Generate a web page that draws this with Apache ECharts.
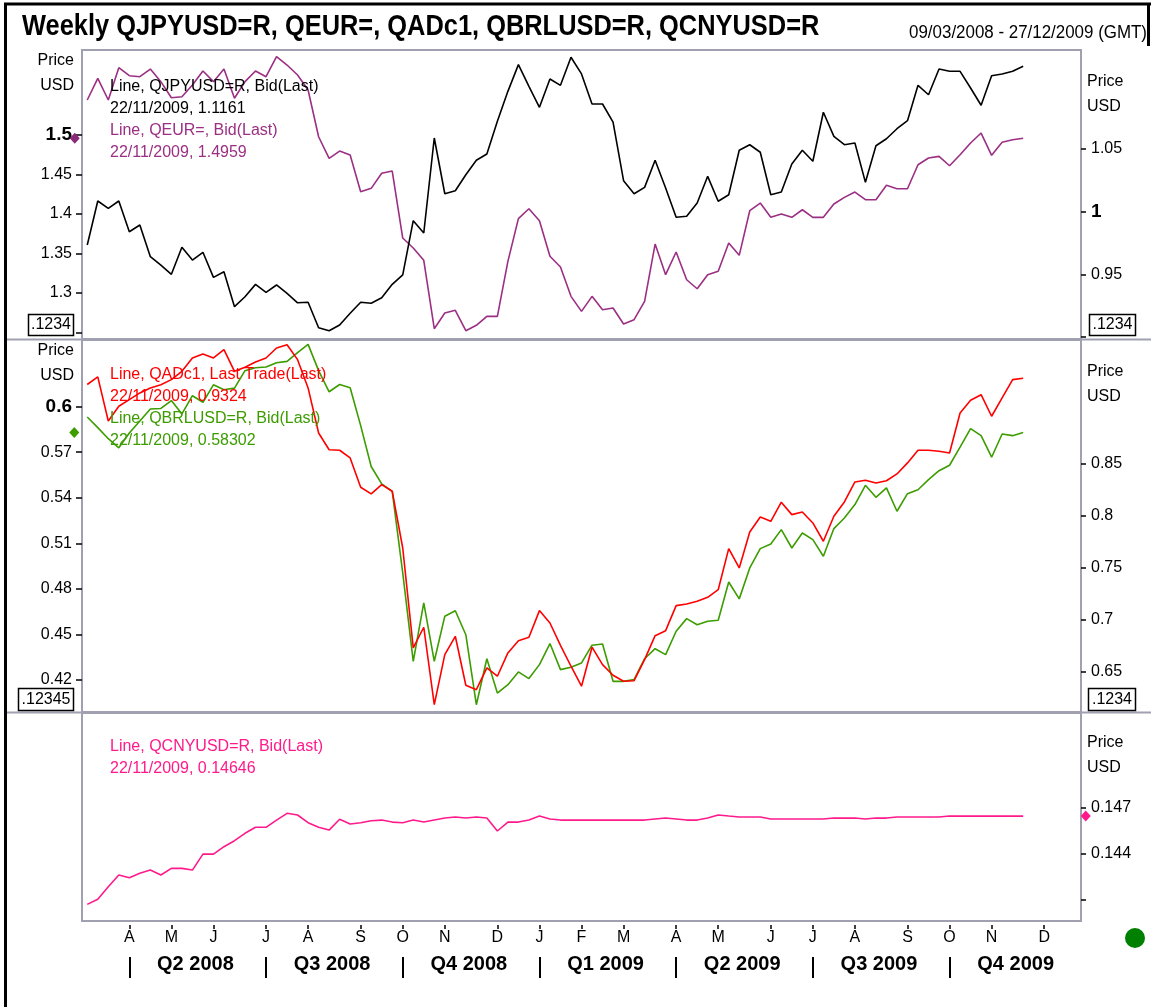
<!DOCTYPE html>
<html>
<head>
<meta charset="utf-8">
<title>Weekly QJPYUSD=R, QEUR=, QADc1, QBRLUSD=R, QCNYUSD=R</title>
<script src="https://cdn.jsdelivr.net/npm/echarts@6/dist/echarts.min.js"></script>
<style>
  html, body { margin: 0; padding: 0; background: #fff; }
  #chart { width: 1151px; height: 1007px; }
</style>
</head>
<body>
<div id="chart"></div>
<script>
// weekly calendar 09/03/2008 .. 27/12/2009 (the last weeks have no data yet)
const firstWeek = Date.UTC(2008, 2, 9);
const weekCount = 95;
const weeks = [];
for (let i = 0; i < weekCount; i++) {
  weeks.push(new Date(firstWeek + i * 7 * 86400000).toISOString().slice(0, 10));
}
const monthInitials = ['J', 'F', 'M', 'A', 'M', 'J', 'J', 'A', 'S', 'O', 'N', 'D'];

const jpyName = 'Line, QJPYUSD=R, Bid(Last)';
const eurName = 'Line, QEUR=, Bid(Last)';
const audName = 'Line, QADc1, Last Trade(Last)';
const brlName = 'Line, QBRLUSD=R, Bid(Last)';
const cnyName = 'Line, QCNYUSD=R, Bid(Last)';

const jpyValues = [
  0.9734, 1.0085, 1.0027, 1.0085, 0.9840, 0.9894, 0.9641, 0.9574, 0.9500, 0.9716,
  0.9614, 0.9676, 0.9476, 0.9521, 0.9242, 0.9321, 0.9420, 0.9356, 0.9415, 0.9348,
  0.9273, 0.9277, 0.9074, 0.9050, 0.9096, 0.9189, 0.9277, 0.9269, 0.9313, 0.9420,
  0.9495, 0.9928, 0.9830, 1.0588, 1.0143, 1.0167, 1.0295, 1.0410, 1.0460, 1.0721,
  1.0960, 1.1173, 1.1000, 1.0833, 1.1059, 1.1008, 1.1232, 1.1099, 1.0859, 1.0859,
  1.0715, 1.0247, 1.0143, 1.0194, 1.0410, 1.0189, 0.9955, 0.9963, 1.0069, 1.0282,
  1.0083, 1.0135, 1.0490, 1.0534, 1.0474, 1.0135, 1.0157, 1.0380, 1.0490, 1.0402,
  1.0793, 1.0601, 1.0534, 1.0548, 1.0234, 1.0526, 1.0582, 1.0662, 1.0726, 1.1008,
  1.0933, 1.1138, 1.1120, 1.1120, 1.0987, 1.0849, 1.1085, 1.1099, 1.1120, 1.1161
];
const eurValues = [
  1.5443, 1.5718, 1.5443, 1.5852, 1.5751, 1.5738, 1.5835, 1.5675, 1.5472, 1.5485,
  1.5633, 1.5810, 1.5675, 1.5835, 1.5465, 1.5675, 1.5810, 1.5738, 1.5991, 1.5886,
  1.5759, 1.5570, 1.4978, 1.4705, 1.4797, 1.4747, 1.4282, 1.4325, 1.4515, 1.4544,
  1.3696, 1.3570, 1.3414, 1.2548, 1.2747, 1.2781, 1.2523, 1.2591, 1.2705, 1.2705,
  1.3401, 1.3941, 1.4067, 1.3915, 1.3465, 1.3329, 1.2958, 1.2768, 1.2958, 1.2789,
  1.2810, 1.2608, 1.2662, 1.2895, 1.3620, 1.3232, 1.3519, 1.3168, 1.3054, 1.3232,
  1.3275, 1.3633, 1.3477, 1.4042, 1.4139, 1.3958, 1.4000, 1.3958, 1.4054, 1.3958,
  1.3958, 1.4127, 1.4211, 1.4278, 1.4181, 1.4181, 1.4363, 1.4320, 1.4320, 1.4624,
  1.4709, 1.4730, 1.4611, 1.4751, 1.4899, 1.5025, 1.4743, 1.4908, 1.4941, 1.4959
];
const audValues = [
  0.9264, 0.9337, 0.8913, 0.9055, 0.9118, 0.9183, 0.9231, 0.9262, 0.9311, 0.9391,
  0.9519, 0.9558, 0.9519, 0.9599, 0.9391, 0.9430, 0.9481, 0.9519, 0.9615, 0.9647,
  0.9503, 0.9231, 0.8798, 0.8637, 0.8632, 0.8558, 0.8276, 0.8212, 0.8301, 0.8238,
  0.7692, 0.6731, 0.6930, 0.6186, 0.6666, 0.6843, 0.6372, 0.6330, 0.6539, 0.6459,
  0.6683, 0.6801, 0.6834, 0.7090, 0.6971, 0.6755, 0.6555, 0.6363, 0.6738, 0.6570,
  0.6468, 0.6411, 0.6416, 0.6618, 0.6849, 0.6897, 0.7138, 0.7154, 0.7180, 0.7218,
  0.7291, 0.7686, 0.7500, 0.7846, 0.7990, 0.7949, 0.8132, 0.8013, 0.8038, 0.7933,
  0.7757, 0.7997, 0.8135, 0.8327, 0.8343, 0.8317, 0.8339, 0.8404, 0.8510, 0.8632,
  0.8632, 0.8622, 0.8606, 0.8990, 0.9112, 0.9166, 0.8959, 0.9135, 0.9311, 0.9324
];
const brlValues = [
  0.5932, 0.5862, 0.5789, 0.5729, 0.5827, 0.5906, 0.5985, 0.5988, 0.6040, 0.5952,
  0.6072, 0.6029, 0.6144, 0.6111, 0.6122, 0.6237, 0.6256, 0.6261, 0.6289, 0.6298,
  0.6356, 0.6410, 0.6237, 0.6098, 0.6146, 0.6124, 0.5875, 0.5606, 0.5491, 0.5442,
  0.4905, 0.4323, 0.4707, 0.4323, 0.4620, 0.4656, 0.4498, 0.4037, 0.4340, 0.4114,
  0.4169, 0.4253, 0.4209, 0.4301, 0.4440, 0.4268, 0.4284, 0.4312, 0.4429, 0.4437,
  0.4191, 0.4191, 0.4202, 0.4340, 0.4406, 0.4367, 0.4521, 0.4604, 0.4564, 0.4587,
  0.4593, 0.4845, 0.4734, 0.4938, 0.5065, 0.5096, 0.5190, 0.5069, 0.5168, 0.5124,
  0.5015, 0.5197, 0.5267, 0.5355, 0.5482, 0.5403, 0.5465, 0.5311, 0.5427, 0.5453,
  0.5519, 0.5578, 0.5614, 0.5733, 0.5855, 0.5809, 0.5667, 0.5820, 0.5809, 0.58302
];
const cnyValues = [
  0.14072, 0.14105, 0.14187, 0.14263, 0.14245, 0.14274, 0.14295, 0.14263, 0.14306, 0.14306,
  0.14295, 0.14399, 0.14399, 0.14447, 0.14486, 0.14534, 0.14573, 0.14573, 0.14620, 0.14664,
  0.14653, 0.14603, 0.14573, 0.14555, 0.14625, 0.14594, 0.14603, 0.14616, 0.14620, 0.14607,
  0.14603, 0.14620, 0.14607, 0.14620, 0.14633, 0.14640, 0.14633, 0.14640, 0.14633, 0.14549,
  0.14607, 0.14607, 0.14620, 0.14646, 0.14627, 0.14620, 0.14620, 0.14620, 0.14620, 0.14620,
  0.14620, 0.14620, 0.14620, 0.14620, 0.14627, 0.14633, 0.14627, 0.14620, 0.14620, 0.14633,
  0.14653, 0.14646, 0.14640, 0.14640, 0.14640, 0.14627, 0.14627, 0.14627, 0.14627, 0.14627,
  0.14627, 0.14633, 0.14633, 0.14633, 0.14627, 0.14633, 0.14633, 0.14640, 0.14640, 0.14640,
  0.14640, 0.14640, 0.14646, 0.14646, 0.14646, 0.14646, 0.14646, 0.14646, 0.14646, 0.14646
];

// tick values per axis
const eurTicks = [1.25, 1.3, 1.35, 1.4, 1.45, 1.5];
const jpyTicks = [0.9, 0.95, 1, 1.05];
const brlTicks = [0.42, 0.45, 0.48, 0.51, 0.54, 0.57, 0.6];
const audTicks = [0.65, 0.7, 0.75, 0.8, 0.85];
const cnyTicks = [0.141, 0.144, 0.147];

const colors = {
  jpy: '#000000',
  eur: '#9b2f83',
  aud: '#ff0000',
  brl: '#3c9c00',
  cny: '#ff1a8c'
};

const font = 'Liberation Sans, Arial, sans-serif';

const monthOf = i => Number(weeks[i].slice(5, 7)) - 1;
const isMonthStart = i => i > 0 && i < weekCount && monthOf(i) !== monthOf(i - 1);
const isQuarterStart = i => isMonthStart(i) && monthOf(i) % 3 === 0;

function dmy(iso) {
  const p = iso.split('-');
  return p[2] + '/' + p[1] + '/' + p[0];
}

const lastInfo = {};
[[jpyName, jpyValues], [eurName, eurValues], [audName, audValues], [brlName, brlValues], [cnyName, cnyValues]]
  .forEach(([name, vals]) => {
    lastInfo[name] = dmy(weeks[vals.length - 1]) + ', ' + vals[vals.length - 1];
  });

function tickLabels(ticks, bold, hidden) {
  return function (v) {
    const t = ticks.find(x => Math.abs(x - v) < 1e-9);
    const s = String(t === undefined ? v : t);
    if (hidden !== undefined && Math.abs(v - hidden) < 1e-9) return '';
    if (bold !== undefined && Math.abs(v - bold) < 1e-9) return '{b|' + s + '}';
    return s;
  };
}

function valueAxis(gridIndex, side, min, max, ticks, bold, hidden, nameGap) {
  return {
    type: 'value',
    gridIndex: gridIndex,
    position: side,
    min: min,
    max: max,
    name: nameGap === null ? '' : 'Price\nUSD',
    nameLocation: 'end',
    nameGap: nameGap === null ? 0 : nameGap,
    nameTextStyle: {
      align: side === 'left' ? 'right' : 'left',
      verticalAlign: 'top',
      lineHeight: 25,
      fontSize: 16,
      fontFamily: font,
      color: '#000',
      padding: side === 'left' ? [0, 8, 0, 0] : [0, 0, 0, 6]
    },
    axisLine: { show: false },
    axisTick: { show: true, length: side === 'left' ? 6 : 5, customValues: ticks, lineStyle: { color: '#000', width: 1.5 } },
    axisLabel: {
      customValues: ticks,
      margin: 10,
      fontSize: 16,
      fontFamily: font,
      color: '#000',
      formatter: tickLabels(ticks, bold, hidden),
      rich: { b: { fontSize: 19, fontWeight: 'bold', fontFamily: font, color: '#000' } }
    },
    splitLine: { show: false }
  };
}

function hiddenX(gridIndex) {
  return { type: 'category', gridIndex: gridIndex, data: weeks, boundaryGap: true, show: false };
}

function line(name, xi, yi, values, color, marker) {
  const s = {
    name: name,
    type: 'line',
    xAxisIndex: xi,
    yAxisIndex: yi,
    data: values,
    symbol: 'none',
    showSymbol: false,
    color: color,
    lineStyle: { color: color, width: 1.6 },
    emphasis: { disabled: true }
  };
  if (marker) {
    s.markPoint = {
      symbol: 'diamond',
      symbolSize: [10, 11],
      symbolOffset: [marker.offset, 0],
      itemStyle: { color: marker.color || color },
      label: { show: false },
      data: [{ coord: [weeks[marker.at], values[values.length - 1]] }]
    };
  }
  return s;
}

function legendFor(names, top) {
  return {
    orient: 'vertical',
    left: 105,
    top: top,
    padding: 0,
    itemGap: 0,
    itemWidth: 0,
    itemHeight: 0,
    icon: 'none',
    selectedMode: false,
    textStyle: { fontSize: 16, fontFamily: font, lineHeight: 22.3 },
    formatter: name => name + '\n' + lastInfo[name],
    data: names.map(n => ({ name: n.name, textStyle: { color: n.color } }))
  };
}

const gridBorder = '#a0a0b0';

const myChart = echarts.init(document.getElementById('chart'), null, { renderer: 'canvas' });

const option = {
  animation: false,
  backgroundColor: '#fff',
  grid: [
    { left: 82, right: 70, top: 50, height: 289, show: true, borderColor: gridBorder, borderWidth: 2, backgroundColor: 'transparent' },
    { left: 82, right: 70, top: 340, height: 372, show: true, borderColor: gridBorder, borderWidth: 2, backgroundColor: 'transparent' },
    { left: 82, right: 70, top: 713, height: 208, show: true, borderColor: gridBorder, borderWidth: 2, backgroundColor: 'transparent' }
  ],
  xAxis: [
    hiddenX(0),
    hiddenX(1),
    {
      // month initials
      type: 'category',
      gridIndex: 2,
      data: weeks,
      boundaryGap: true,
      position: 'bottom',
      offset: 4,
      axisLine: { show: false },
      axisTick: { show: true, alignWithLabel: true, length: 4, interval: i => isMonthStart(i), lineStyle: { color: '#000', width: 1.5 } },
      axisLabel: {
        interval: i => isMonthStart(i),
        formatter: (v, i) => monthInitials[monthOf(i)],
        margin: 5,
        fontSize: 16,
        fontFamily: font,
        color: '#000'
      },
      splitLine: { show: false }
    },
    {
      // quarter row
      type: 'category',
      gridIndex: 2,
      data: weeks,
      boundaryGap: true,
      position: 'bottom',
      offset: 36,
      axisLine: { show: false },
      axisTick: { show: true, alignWithLabel: true, length: 21, interval: i => isQuarterStart(i), lineStyle: { color: '#000', width: 2 } },
      axisLabel: {
        interval: i => isQuarterStart(i - 6),
        formatter: (v, i) => 'Q' + (Math.floor(monthOf(i) / 3) + 1) + ' ' + v.slice(0, 4),
        margin: 7,
        verticalAlign: 'middle',
        padding: [0, 0, 0, 6],
        fontSize: 20,
        fontWeight: 'bold',
        fontFamily: font,
        color: '#000'
      },
      splitLine: { show: false }
    }
  ],
  yAxis: [
    valueAxis(0, 'left', 1.2418, 1.6076, eurTicks, 1.5, 1.25, 1.5),
    valueAxis(0, 'right', 0.8984, 1.1290, jpyTicks, 1, 0.9, -19.5),
    valueAxis(1, 'left', 0.3989, 0.6439, brlTicks, 0.6, undefined, 1.5),
    valueAxis(1, 'right', 0.6115, 0.9692, audTicks, undefined, undefined, -19.5),
    valueAxis(2, 'right', 0.13964, 0.15316, cnyTicks, undefined, 0.141, -17.5)
  ],
  legend: [
    legendFor([{ name: jpyName, color: colors.jpy }, { name: eurName, color: colors.eur }], 75),
    legendFor([{ name: audName, color: colors.aud }, { name: brlName, color: colors.brl }], 363),
    legendFor([{ name: cnyName, color: colors.cny }], 735)
  ],
  series: [
    line(eurName, 0, 0, eurValues, colors.eur, { at: 0, offset: -12.5, color: '#8b2a7a' }),
    line(jpyName, 0, 1, jpyValues, colors.jpy),
    line(brlName, 1, 2, brlValues, colors.brl, { at: 0, offset: -13 }),
    line(audName, 1, 3, audValues, colors.aud),
    line(cnyName, 2, 4, cnyValues, colors.cny, { at: weekCount - 1, offset: 10 })
  ],
  graphic: [
    // outer frame
    { type: 'line', shape: { x1: 4, y1: 4, x2: 1151, y2: 4 }, style: { stroke: '#000', lineWidth: 3 } },
    { type: 'line', shape: { x1: 5.5, y1: 3, x2: 5.5, y2: 1007 }, style: { stroke: '#000', lineWidth: 3 } },
    { type: 'line', shape: { x1: 1148.5, y1: 3, x2: 1148.5, y2: 46 }, style: { stroke: '#000', lineWidth: 3 } },
    // panel separators
    { type: 'line', shape: { x1: 7, y1: 339.5, x2: 1151, y2: 339.5 }, style: { stroke: gridBorder, lineWidth: 2 } },
    { type: 'line', shape: { x1: 7, y1: 712.5, x2: 1151, y2: 712.5 }, style: { stroke: gridBorder, lineWidth: 2 } },
    // title
    {
      type: 'text', x: 22, y: 27, scaleX: 0.847,
      style: { text: 'Weekly QJPYUSD=R, QEUR=, QADc1, QBRLUSD=R, QCNYUSD=R', font: 'bold 30px ' + font, fill: '#000', textVerticalAlign: 'middle', verticalAlign: 'middle' }
    },
    {
      type: 'text', x: 1147, y: 33, scaleX: 0.94,
      style: { text: '09/03/2008 - 27/12/2009 (GMT)', font: '18px ' + font, fill: '#000', textAlign: 'right', align: 'right', verticalAlign: 'middle' }
    },
    // value boxes
    { type: 'rect', shape: { x: 28.5, y: 314.5, width: 45, height: 21 }, style: { fill: '#fff', stroke: '#000', lineWidth: 1.5 } },
    { type: 'text', x: 51, y: 325, style: { text: '.1234', font: '16px ' + font, fill: '#000', align: 'center', verticalAlign: 'middle' } },
    { type: 'rect', shape: { x: 1089.5, y: 314.5, width: 46, height: 21 }, style: { fill: '#fff', stroke: '#000', lineWidth: 1.5 } },
    { type: 'text', x: 1112.5, y: 325, style: { text: '.1234', font: '16px ' + font, fill: '#000', align: 'center', verticalAlign: 'middle' } },
    { type: 'rect', shape: { x: 18.5, y: 688.5, width: 55, height: 22 }, style: { fill: '#fff', stroke: '#000', lineWidth: 1.5 } },
    { type: 'text', x: 46, y: 699.5, style: { text: '.12345', font: '16px ' + font, fill: '#000', align: 'center', verticalAlign: 'middle' } },
    { type: 'rect', shape: { x: 1088.5, y: 688.5, width: 47, height: 22 }, style: { fill: '#fff', stroke: '#000', lineWidth: 1.5 } },
    { type: 'text', x: 1112, y: 699.5, style: { text: '.1234', font: '16px ' + font, fill: '#000', align: 'center', verticalAlign: 'middle' } },
    // status dot
    { type: 'circle', shape: { cx: 1135, cy: 938, r: 10 }, style: { fill: '#008000' } }
  ]
};

myChart.setOption(option);

window.addEventListener('resize', () => myChart.resize());
</script>
</body>
</html>
